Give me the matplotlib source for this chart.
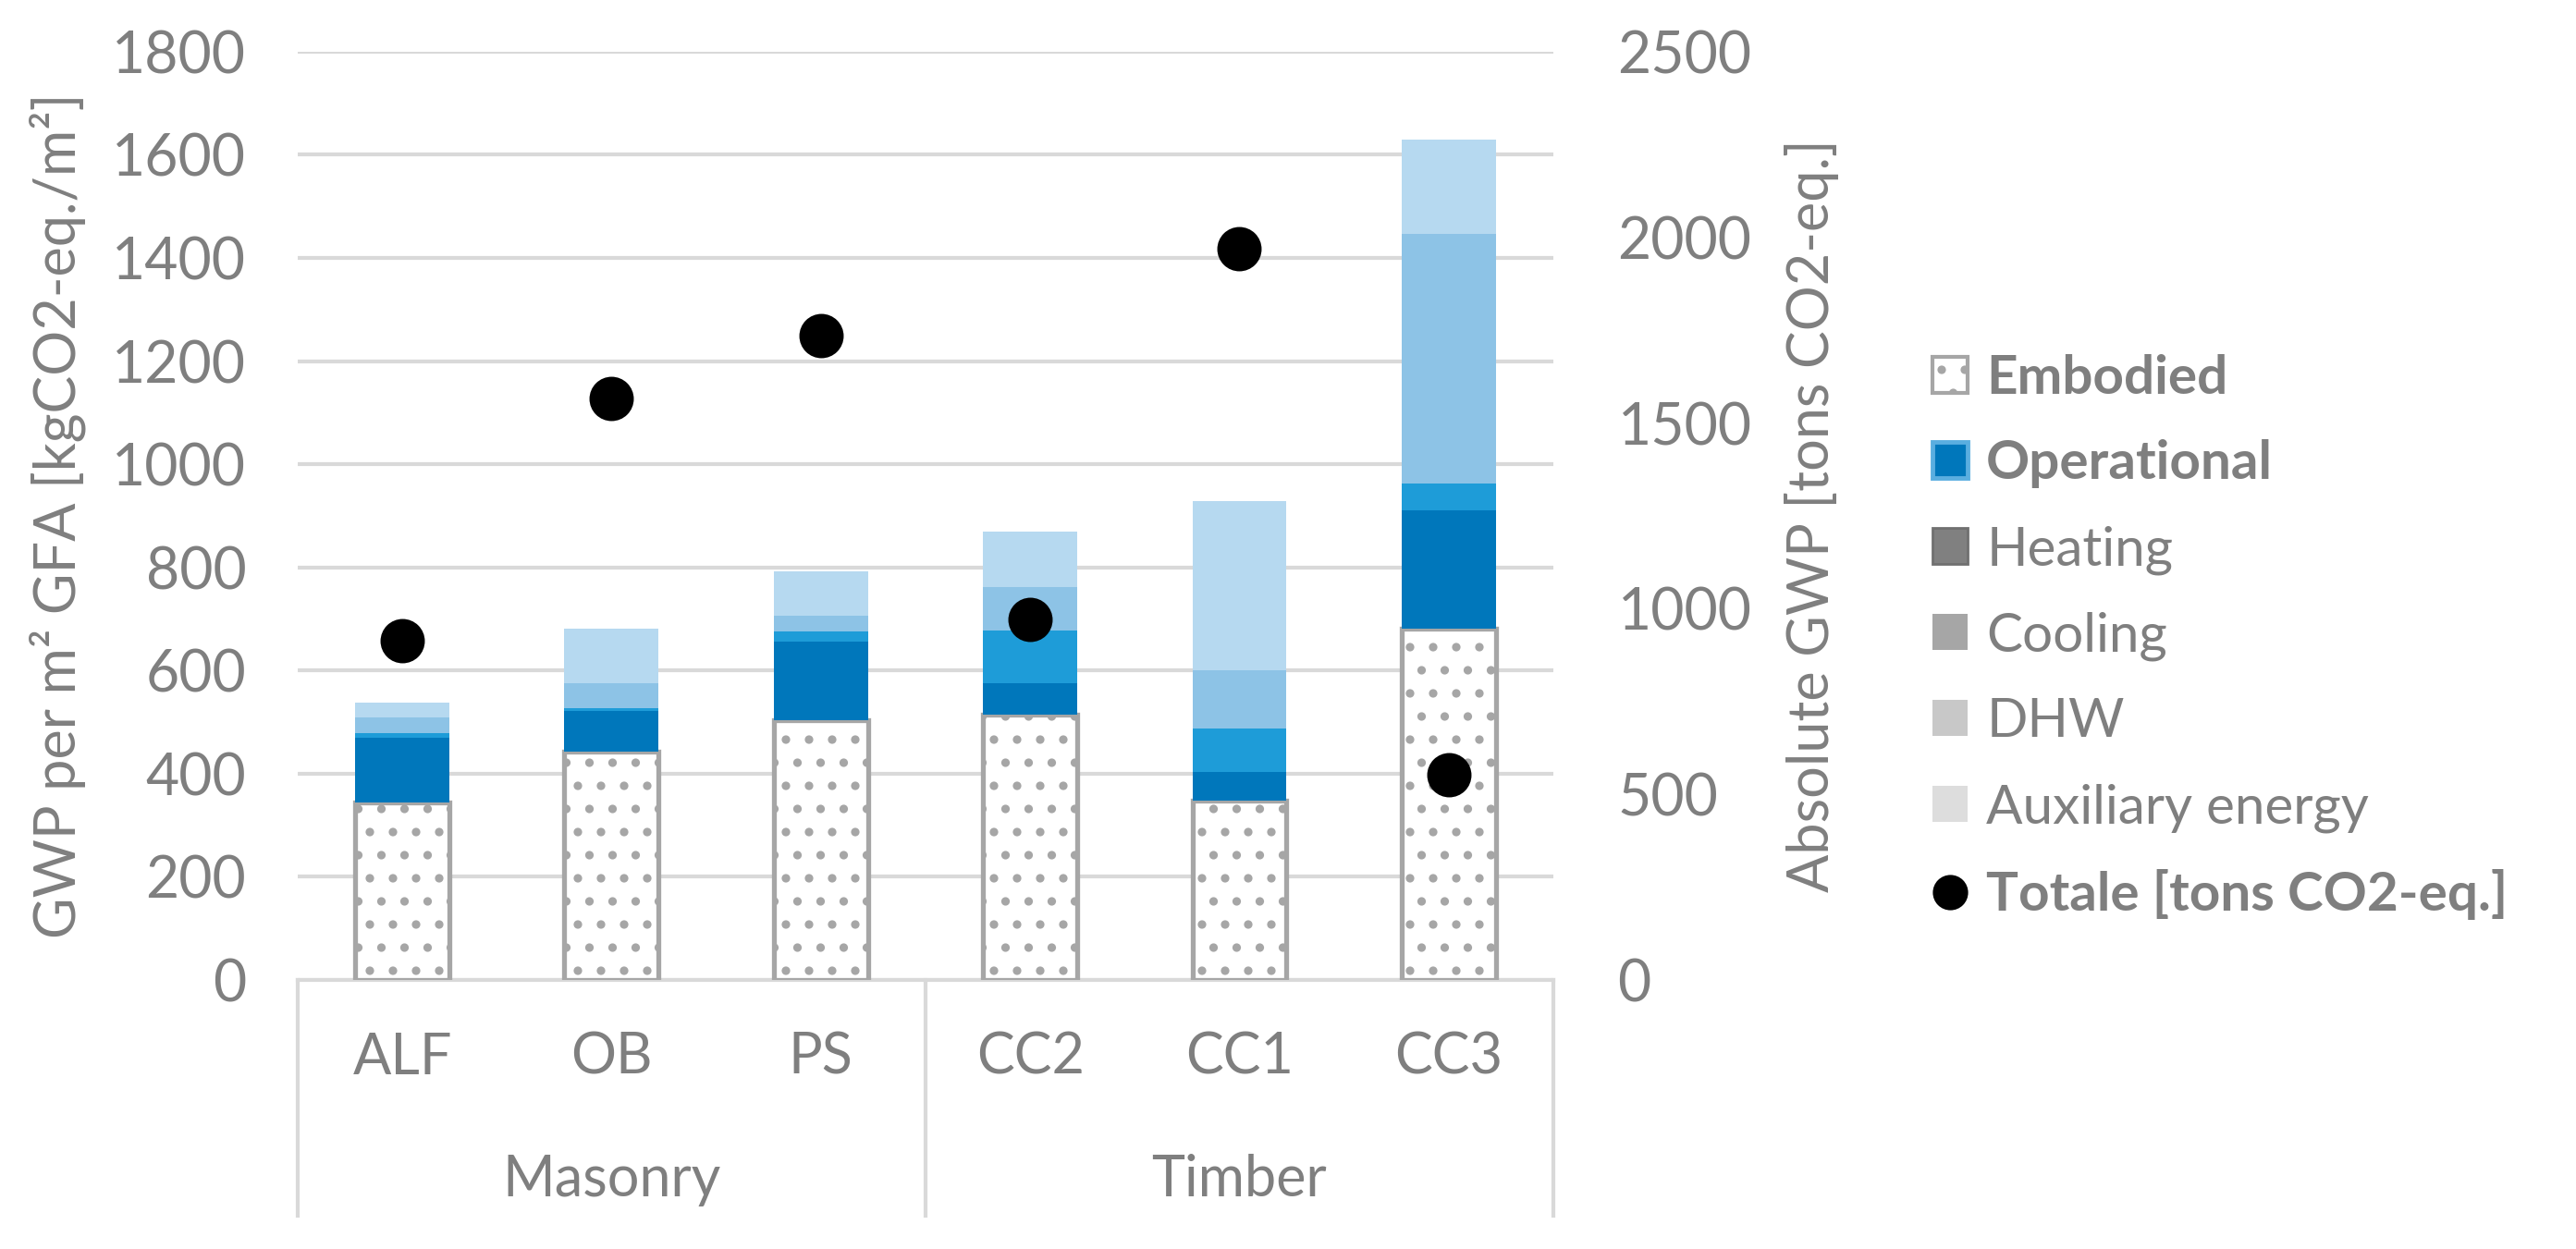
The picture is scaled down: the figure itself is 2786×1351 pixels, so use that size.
import matplotlib
matplotlib.use("Agg")
import matplotlib.pyplot as plt
from matplotlib.patches import Patch
from matplotlib.lines import Line2D
import numpy as np

# figure drawn at 150 dpi so the dotted hatch gets the sparse spacing of the original;
# all sizes are written in "100 dpi points" and scaled by S
DPI = 150
S = 100 / DPI

plt.rcParams['font.family'] = ['Lato', 'DejaVu Sans']
plt.rcParams['hatch.color'] = '#A6A6A6'
plt.rcParams['hatch.linewidth'] = 3.0 * S

cases = ['ALF', 'OB', 'PS', 'CC2', 'CC1', 'CC3']
groups = ['Masonry', 'Timber']
# GWP per m2 GFA [kgCO2-eq./m2]
embodied = [345, 442, 503, 515, 347, 681]
heating = [125, 80, 153, 60, 57, 230]
cooling = [8, 5, 19, 102, 84, 52]
dhw = [32, 48, 32, 85, 112, 484]
auxiliary = [28, 106, 85, 108, 328, 182]
# absolute GWP [tons CO2-eq.]
totale = [915, 1565, 1735, 970, 1970, 553]

grey = '#7F7F7F'
grid = '#D9D9D9'

fig = plt.figure(figsize=(2787 / DPI, 1351 / DPI), dpi=DPI)
ax = fig.add_axes([0.1155, 0.2154, 0.4873, 0.7432])
x = np.arange(len(cases))
w = 0.45

ax.bar(x, embodied, w, color='white', edgecolor='#A6A6A6', linewidth=3.8 * S, hatch='.', zorder=3)
bottom = np.array(embodied, dtype=float)
for vals, col in [(heating, '#0077BB'), (cooling, '#1E9CD8'), (dhw, '#8DC3E6'), (auxiliary, '#B6D9F0')]:
    ax.bar(x, vals, w, bottom=bottom, color=col, linewidth=0, zorder=3)
    bottom += np.array(vals)

ax.set_xlim(-0.5, 5.5)
ax.set_ylim(0, 1800)
ax.set_yticks(range(0, 1801, 200))
ax.grid(axis='y', color=grid, linewidth=3 * S, zorder=0)
for s in ax.spines.values():
    s.set_visible(False)
ax.tick_params(axis='y', length=0, pad=40 * S, labelsize=45 * S, labelcolor=grey)
ax.set_xticks(x)
ax.set_xticklabels(cases)
ax.tick_params(axis='x', length=0, pad=40 * S, labelsize=44 * S, labelcolor=grey)
ax.set_ylabel('GWP per m² GFA [kgCO2-eq./m²]', fontsize=44 * S, color=grey)
ax.yaxis.set_label_coords(-0.1686, 0.5)

# category axis lines and group labels
for xv in [-0.5, 2.5, 5.5]:
    ax.plot([xv, xv], [0, -0.254], color=grid, linewidth=3 * S, clip_on=False,
            transform=ax.get_xaxis_transform())
ax.plot([-0.5, 5.5], [0, 0], color=grid, linewidth=3 * S, clip_on=False,
        transform=ax.get_xaxis_transform())
for gx, g in zip([1, 4], groups):
    ax.text(gx, -0.216, g, ha='center', va='center', fontsize=44 * S, color=grey,
            transform=ax.get_xaxis_transform())

ax2 = ax.twinx()
ax2.set_ylim(0, 2500)
ax2.set_yticks(range(0, 2501, 500))
for s in ax2.spines.values():
    s.set_visible(False)
ax2.tick_params(axis='y', length=0, pad=50 * S, labelsize=45 * S, labelcolor=grey)
ax2.scatter(x, totale, s=(33 * S) ** 2, color='black', zorder=5)
ax2.set_ylabel('Absolute GWP [tons CO2-eq.]', fontsize=44 * S, color=grey)
ax2.yaxis.set_label_coords(1.184, 0.5)

handles = [
    Patch(facecolor='white', edgecolor='#A6A6A6', hatch='.', linewidth=3 * S),
    Patch(facecolor='#0077BB', edgecolor='#5AAEE0', linewidth=3.5 * S),
    Patch(facecolor='#808080', edgecolor='#707070', linewidth=2 * S),
    Patch(facecolor='#A6A6A6'),
    Patch(facecolor='#C8C8C8'),
    Patch(facecolor='#DDDDDD'),
    Line2D([], [], marker='o', color='black', linestyle='none', markersize=26 * S),
]
labels = ['Embodied', 'Operational', 'Heating', 'Cooling', 'DHW', 'Auxiliary energy',
          'Totale [tons CO2-eq.]']
leg = fig.legend(handles, labels, loc='center left', bbox_to_anchor=(0.731, 0.49),
                 frameon=False, fontsize=42 * S, handlelength=0.65, handleheight=0.65,
                 handletextpad=0.35, labelspacing=0.68)
for t in leg.get_texts():
    t.set_color(grey)
for i in [0, 1, 6]:
    leg.get_texts()[i].set_fontweight('bold')

fig.savefig('out.png', dpi=DPI)
